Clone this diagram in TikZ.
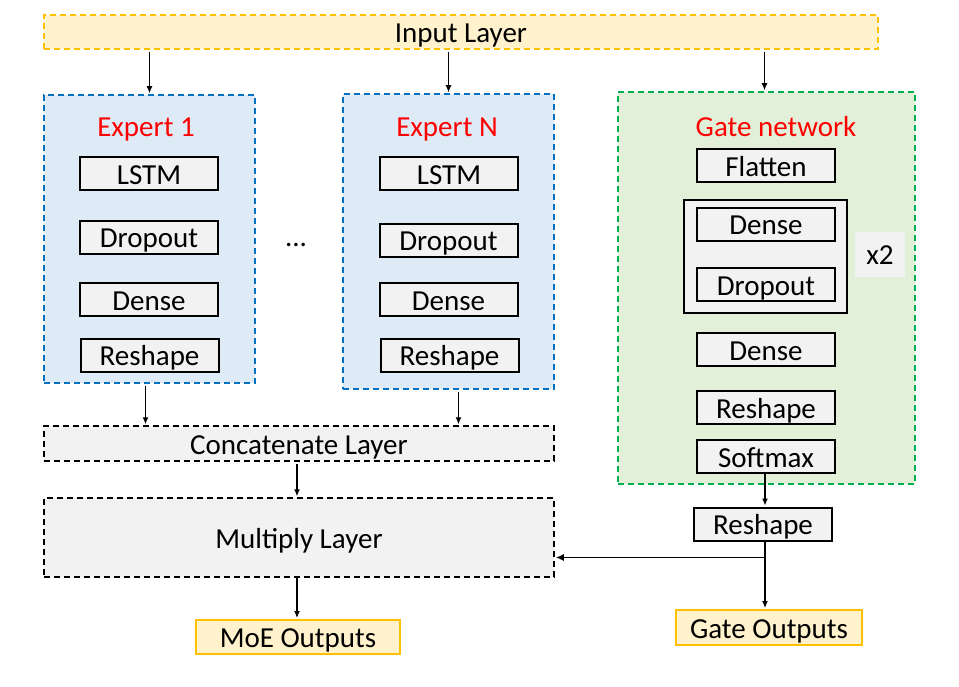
\documentclass[tikz,border=0pt]{standalone}
\usepackage{fontspec}
\setmainfont{Carlito}
\usetikzlibrary{arrows.meta}
\definecolor{ored}{HTML}{FFC000}
\definecolor{ofill}{HTML}{FFF2CC}
\definecolor{bblue}{HTML}{0070C0}
\definecolor{bfill}{HTML}{DEEBF7}
\definecolor{ggreen}{HTML}{00B050}
\definecolor{gfill}{HTML}{E2F0D9}
\definecolor{grayfill}{HTML}{F2F2F2}
\definecolor{redtxt}{HTML}{FF0000}
\begin{document}
\begin{tikzpicture}[x=1pt,y=-1pt,
  every node/.style={font=\fontsize{29}{35}\selectfont, inner sep=0pt, text height=21pt, text depth=0pt},
  inlayer/.style={draw=ored, fill=ofill, line width=1.5pt, dash pattern=on 6pt off 4pt},
  expbox/.style={draw=bblue, fill=bfill, line width=1.5pt, dash pattern=on 6pt off 4pt},
  gatebox/.style={draw=ggreen, fill=gfill, line width=1.5pt, dash pattern=on 6pt off 4pt},
  graybox/.style={draw=black, fill=grayfill, line width=1.5pt, dash pattern=on 6pt off 4pt},
  layerbox/.style={draw=black, fill=grayfill, line width=2pt, minimum width=138pt, minimum height=33pt},
  outbox/.style={draw=ored, fill=ofill, line width=2pt},
  ttl/.style={text=redtxt},
  arr/.style={-{Latex[length=7pt,width=6pt]}, line width=1.2pt, shorten <=2pt, shorten >=1pt}
]
\useasboundingbox (0,0) rectangle (959,687);

% input layer
\node[inlayer, minimum width=834pt, minimum height=34pt] (inp) at (461,32) {Input Layer};

% expert boxes
\node[expbox, minimum width=211pt, minimum height=288pt] (e1) at (149.5,239) {};
\node[expbox, minimum width=211pt, minimum height=295pt] (eN) at (448.5,241.5) {};
\node[gatebox, minimum width=297pt, minimum height=392pt] (g) at (766.5,288) {};

% titles
\node[ttl] (t1) at (146,126) {Expert 1};
\node[ttl] (tN) at (447,126) {Expert N};
\node[ttl] (tg) at (776,126) {Gate network};

% expert 1 layers
\node[layerbox] (e1a) at (149,174) {LSTM};
\node[layerbox] (e1b) at (149,237.5) {Dropout};
\node[layerbox] (e1c) at (149,299.5) {Dense};
\node[layerbox] (e1d) at (149.5,355) {Reshape};

\node (dots) at (296,236) {...};

% expert N layers
\node[layerbox] (eNa) at (449,174) {LSTM};
\node[layerbox] (eNb) at (448.5,240.5) {Dropout};
\node[layerbox] (eNc) at (448.5,299.5) {Dense};
\node[layerbox] (eNd) at (449.5,355) {Reshape};

% gate layers
\node[layerbox] (ga) at (766,166) {Flatten};
\node[draw=black, fill=grayfill, line width=2pt, minimum width=163pt, minimum height=113pt] (rep) at (765.5,256.5) {};
\node[fill=grayfill, minimum width=50pt, minimum height=45pt] (x2) at (880,254.5) {x2};
\node[layerbox] (gb) at (766,224.5) {Dense};
\node[layerbox] (gc) at (766,284.5) {Dropout};
\node[layerbox] (gd) at (766,349.5) {Dense};
\node[layerbox] (ge) at (766,407.5) {Reshape};
\node[layerbox] (gf) at (766,456.5) {Softmax};
\node[layerbox] (r2) at (763,524) {Reshape};

% concat and multiply
\node[graybox, minimum width=510pt, minimum height=35pt] (cat) at (299,443.5) {Concatenate Layer};
\node[graybox, minimum width=510pt, minimum height=79pt] (mul) at (299,537.5) {Multiply Layer};

% outputs
\node[outbox, minimum width=204pt, minimum height=34pt] (moe) at (298,637) {MoE Outputs};
\node[outbox, minimum width=186pt, minimum height=35pt] (gout) at (769,627.5) {Gate Outputs};

% arrows from input
\draw[arr] (e1.north |- inp.south) -- (e1.north);
\draw[arr] (eN.north |- inp.south) -- (eN.north);
\draw[arr] ([xshift=-2pt]g.north |- inp.south) -- ([xshift=-2pt]g.north);

% experts to concat
\draw[arr] ([xshift=-4pt]e1.south) -- ([xshift=-4pt]e1.south |- cat.north);
\draw[arr] ([xshift=10pt]eN.south) -- ([xshift=10pt]eN.south |- cat.north);

% concat to multiply
\draw[arr] ([xshift=-2pt]cat.south) -- ([xshift=-2pt]mul.north);

% softmax to reshape
\draw[arr, shorten <=0pt] ([xshift=-1pt]gf.south) -- ([xshift=-1pt]gf.south |- r2.north);

% reshape to gate outputs and multiply
\coordinate (j) at ([xshift=2pt,yshift=-16pt]r2.south);
\draw[arr, shorten <=0pt] ([xshift=2pt]r2.south) -- ([xshift=2pt]r2.south |- gout.north);
\draw[-{Latex[length=8pt,width=7pt]}, line width=1.8pt, shorten >=1pt] (j) -- (j -| mul.east);

% multiply to moe
\draw[arr, shorten <=0pt] ([xshift=-2pt]mul.south) -- ([xshift=-2pt]mul.south |- moe.north);
\end{tikzpicture}
\end{document}
